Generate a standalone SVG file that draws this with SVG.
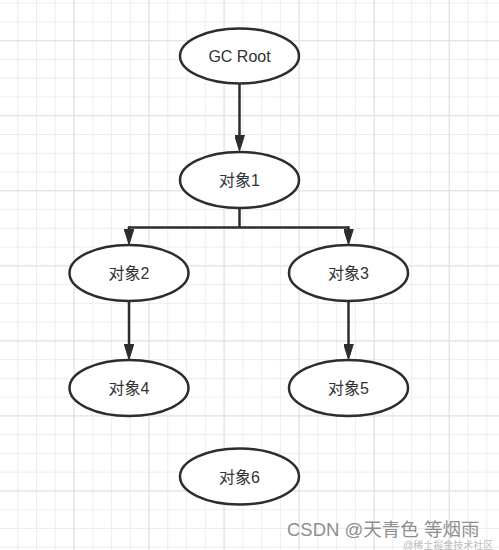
<svg xmlns="http://www.w3.org/2000/svg" width="499" height="550" viewBox="0 0 499 550">
  <defs>
    <pattern id="gridMinor" patternUnits="userSpaceOnUse" x="17.22" y="2.68" width="18.76" height="18.76">
      <path d="M0.5 0 V18.76 M0 0.5 H18.76" stroke="#ededed" stroke-width="1" fill="none"/>
    </pattern>
    <pattern id="gridMajor" patternUnits="userSpaceOnUse" x="-1.54" y="-34.84" width="75.04" height="75.04">
      <path d="M0.5 0 V75.04 M0 0.5 H75.04" stroke="#e0e0e0" stroke-width="1" fill="none"/>
    </pattern>
    <marker id="arrow" markerUnits="userSpaceOnUse" viewBox="0 0 16 10" markerWidth="16" markerHeight="10" refX="6" refY="5" orient="auto">
      <path d="M0 0 L16 5 L0 10 Z" fill="#2d2d2d" stroke="#2d2d2d" stroke-width="1"/>
    </marker>
    <style>
      .node ellipse { fill: #ffffff; stroke: #2d2d2d; stroke-width: 2.5; }
      .node text { font-family: "Liberation Sans", "Noto Sans CJK SC", sans-serif; font-size: 16px; fill: #333333; text-anchor: middle; }
      .edge { fill: none; stroke: #2d2d2d; stroke-width: 2.5; }
      .wm { font-family: "Liberation Sans", "Noto Sans CJK SC", sans-serif; }
    </style>
  </defs>
  <rect width="499" height="550" fill="#ffffff"/>
  <rect width="499" height="550" fill="url(#gridMinor)"/>
  <rect width="499" height="550" fill="url(#gridMajor)"/>

  <g id="connectors">
    <path class="edge" d="M239.5 83.5 V141" marker-end="url(#arrow)"/>
    <path class="edge" d="M239.5 208 V227.5"/>
    <path class="edge" d="M129 227.5 H348.5"/>
    <path class="edge" d="M129 226.3 V234.5" marker-end="url(#arrow)"/>
    <path class="edge" d="M348.5 226.3 V234.5" marker-end="url(#arrow)"/>
    <path class="edge" d="M129 301 V349.5" marker-end="url(#arrow)"/>
    <path class="edge" d="M348.5 301 V349.5" marker-end="url(#arrow)"/>
  </g>

  <g id="gcroot" class="node">
    <ellipse cx="239.5" cy="56" rx="59.5" ry="27.5"/>
    <text x="239.5" y="62">GC Root</text>
  </g>
  <g id="obj1" class="node">
    <ellipse cx="239.5" cy="180" rx="59.5" ry="28"/>
    <text x="239.5" y="186">对象1</text>
  </g>
  <g id="obj2" class="node">
    <ellipse cx="129" cy="273" rx="59.5" ry="28"/>
    <text x="129" y="279">对象2</text>
  </g>
  <g id="obj3" class="node">
    <ellipse cx="348.5" cy="273" rx="59.5" ry="28"/>
    <text x="348.5" y="279">对象3</text>
  </g>
  <g id="obj4" class="node">
    <ellipse cx="129" cy="388" rx="59.5" ry="28"/>
    <text x="129" y="394">对象4</text>
  </g>
  <g id="obj5" class="node">
    <ellipse cx="348.5" cy="388" rx="59.5" ry="28"/>
    <text x="348.5" y="394">对象5</text>
  </g>
  <g id="obj6" class="node">
    <ellipse cx="239.5" cy="476.5" rx="59.5" ry="28"/>
    <text x="239.5" y="482.5">对象6</text>
  </g>

  <g id="watermark">
    <text class="wm" x="287" y="536" font-size="18.5" fill="#8e8e8e" stroke="#ffffff" stroke-width="0.6" paint-order="stroke">CSDN @天青色 等烟雨</text>
    <text class="wm" x="403" y="548.5" font-size="10" fill="#bdbdbd">@稀土掘金技术社区</text>
  </g>
</svg>
